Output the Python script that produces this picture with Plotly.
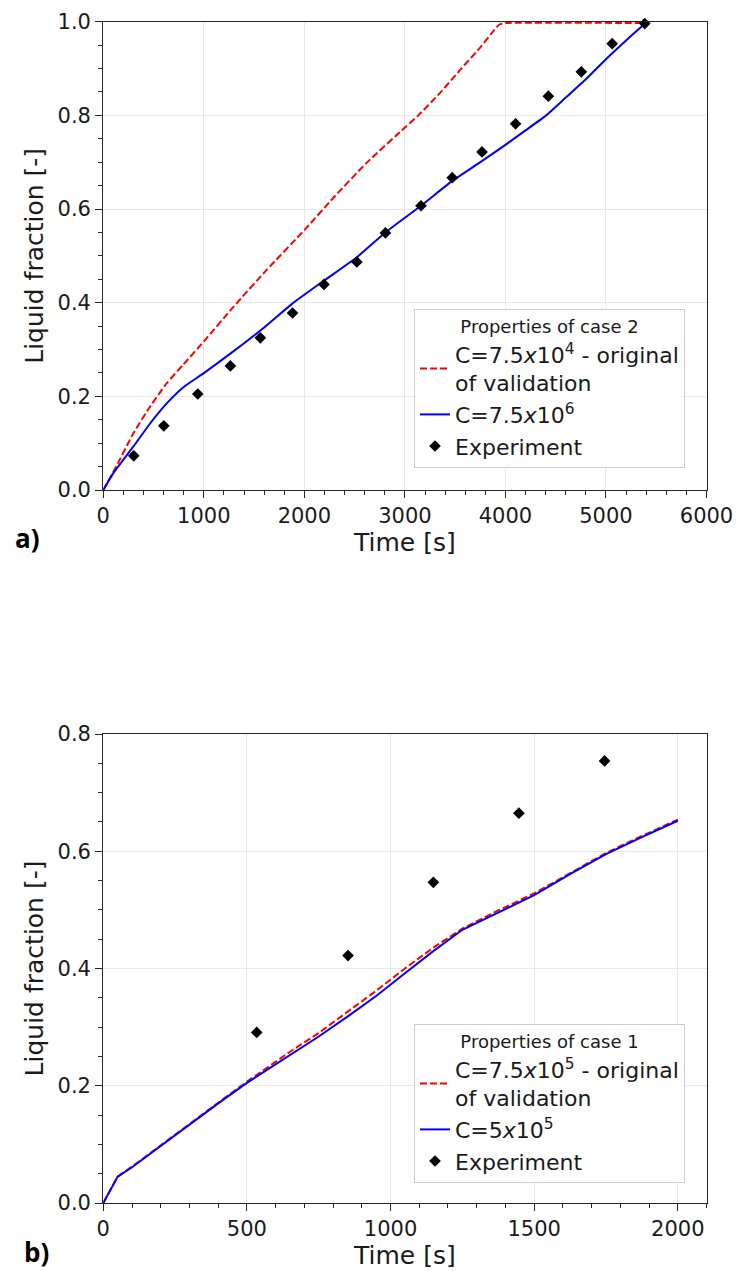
import plotly.graph_objects as go

# ---------------- Panel a) : Properties of case 2 ----------------
t_a_red = [0, 133, 299, 465, 631, 797, 1003, 1294, 1625, 2000, 2289, 2621, 3000, 3134,
           3350, 3549, 3750, 3880, 3940, 4000, 5400]
f_a_red = [0, 0.052, 0.121, 0.178, 0.228, 0.268, 0.318, 0.391, 0.470, 0.555, 0.624, 0.699, 0.774, 0.800,
           0.848, 0.897, 0.945, 0.980, 0.994, 0.997, 0.997]

t_a_blue = [0, 100, 300, 465, 631, 800, 1003, 1300, 1600, 1880, 2195, 2522, 2806, 3160,
            3471, 3750, 4000, 4200, 4405, 4600, 4800, 5000, 5200, 5395]
f_a_blue = [0, 0.036, 0.093, 0.142, 0.185, 0.220, 0.250, 0.297, 0.347, 0.398, 0.447, 0.497, 0.550, 0.607,
            0.660, 0.700, 0.737, 0.768, 0.800, 0.838, 0.877, 0.920, 0.960, 0.997]

t_a_exp = [303, 602, 940, 1264, 1562, 1882, 2195, 2522, 2806, 3160, 3471, 3767, 4101, 4427, 4755, 5062, 5386]
f_a_exp = [0.073, 0.137, 0.205, 0.265, 0.325, 0.378, 0.439, 0.487, 0.549, 0.607, 0.667, 0.722, 0.782, 0.841, 0.893, 0.953, 0.996]

# ---------------- Panel b) : Properties of case 1 ----------------
t_b = [0, 50, 100, 250, 400, 500, 650, 750, 850, 950, 1050, 1150, 1250, 1375, 1500, 1625, 1750, 1875, 2000]
f_b_red = [0, 0.045, 0.062, 0.117, 0.171, 0.207, 0.258, 0.290, 0.326, 0.362, 0.400, 0.436, 0.468, 0.499, 0.528,
           0.563, 0.597, 0.626, 0.654]
f_b_blue = [0, 0.045, 0.061, 0.116, 0.170, 0.205, 0.253, 0.284, 0.318, 0.353, 0.392, 0.430, 0.466, 0.496, 0.525,
            0.561, 0.595, 0.624, 0.652]

t_b_exp = [534, 852, 1149, 1447, 1745]
f_b_exp = [0.291, 0.422, 0.547, 0.665, 0.754]

# ---------------- labels ----------------
name_a_red = 'C=7.5<i>x</i>10<sup>4</sup> - original<br>of validation'
name_a_blue = 'C=7.5<i>x</i>10<sup>6</sup>'
name_b_red = 'C=7.5<i>x</i>10<sup>5</sup> - original<br>of validation'
name_b_blue = 'C=5<i>x</i>10<sup>5</sup>'
name_exp = 'Experiment'

W, H = 736, 1271
FONT = 'DejaVu Sans'
RED = '#ff0000'
BLUE = '#0000ff'

fig = go.Figure()

fig.add_trace(go.Scatter(x=t_a_red, y=f_a_red, mode='lines', name=name_a_red,
                         line=dict(color=RED, width=2, dash='7px,3px', shape='spline', smoothing=0.5),
                         xaxis='x', yaxis='y', legend='legend'))
fig.add_trace(go.Scatter(x=t_a_blue, y=f_a_blue, mode='lines', name=name_a_blue,
                         line=dict(color=BLUE, width=2, shape='spline', smoothing=0.5),
                         xaxis='x', yaxis='y', legend='legend'))
fig.add_trace(go.Scatter(x=t_a_exp, y=f_a_exp, mode='markers', name=name_exp,
                         marker=dict(symbol='diamond', size=9, color='black'),
                         cliponaxis=False, xaxis='x', yaxis='y', legend='legend'))

fig.add_trace(go.Scatter(x=t_b, y=f_b_red, mode='lines', name=name_b_red,
                         line=dict(color=RED, width=2, dash='7px,3px'),
                         xaxis='x2', yaxis='y2', legend='legend2'))
fig.add_trace(go.Scatter(x=t_b, y=f_b_blue, mode='lines', name=name_b_blue,
                         line=dict(color=BLUE, width=2),
                         xaxis='x2', yaxis='y2', legend='legend2'))
fig.add_trace(go.Scatter(x=t_b_exp, y=f_b_exp, mode='markers', name=name_exp,
                         marker=dict(symbol='diamond', size=9, color='black'),
                         cliponaxis=False, xaxis='x2', yaxis='y2', legend='legend2'))

AXC = '#262626'
def axstyle(**kw):
    d = dict(showline=True, linecolor=AXC, linewidth=1.3, mirror=True,
             ticks='outside', ticklen=7, tickwidth=1.3, tickcolor=AXC,
             showgrid=True, gridcolor='#e8e8e8', gridwidth=1, zeroline=False,
             tickfont=dict(family=FONT, size=21, color='#1a1a1a'),
             automargin=False)
    d.update(kw)
    return d

xd = [103.3 / W, 706.5 / W]
ya_dom = [1 - 490 / H, 1 - 21.7 / H]
yb_dom = [1 - 1203 / H, 1 - 734 / H]

title_font = dict(family=FONT, size=25, color='#1a1a1a')
minor_style = dict(ticks='outside', ticklen=4, tickwidth=1.1, tickcolor=AXC, showgrid=False)

fig.update_layout(
    width=W, height=H,
    margin=dict(l=0, r=0, t=0, b=0),
    paper_bgcolor='white', plot_bgcolor='white',
    showlegend=True,
    xaxis=axstyle(domain=xd, anchor='y', range=[0, 6000], tick0=0, dtick=1000,
                  minor=dict(dtick=200, **minor_style),
                  title=dict(text='Time [s]', font=title_font, standoff=4)),
    yaxis=axstyle(domain=ya_dom, anchor='x', range=[0, 1.0], tick0=0, dtick=0.2, tickformat='.1f',
                  minor=dict(dtick=0.05, **minor_style),
                  title=dict(text='Liquid fraction [-]', font=title_font, standoff=6)),
    xaxis2=axstyle(domain=xd, anchor='y2', range=[0, 2100], tick0=0, dtick=500,
                   minor=dict(dtick=100, **minor_style),
                   title=dict(text='Time [s]', font=title_font, standoff=4)),
    yaxis2=axstyle(domain=yb_dom, anchor='x2', range=[0, 0.8], tick0=0, dtick=0.2, tickformat='.1f',
                   minor=dict(dtick=0.05, **minor_style),
                   title=dict(text='Liquid fraction [-]', font=title_font, standoff=6)),
    legend=dict(x=685 / W, xanchor='right', y=1 - 468 / H, yanchor='bottom',
                bgcolor='rgba(255,255,255,0.85)', bordercolor='#cccccc', borderwidth=1,
                font=dict(family=FONT, size=22, color='#1a1a1a'), valign='middle',
                title=dict(text='Properties of case 2', side='top center',
                           font=dict(family=FONT, size=18, color='#1a1a1a'))),
    legend2=dict(x=685 / W, xanchor='right', y=1 - 1183 / H, yanchor='bottom',
                 bgcolor='rgba(255,255,255,0.85)', bordercolor='#cccccc', borderwidth=1,
                 font=dict(family=FONT, size=22, color='#1a1a1a'), valign='middle',
                 title=dict(text='Properties of case 1', side='top center',
                            font=dict(family=FONT, size=18, color='#1a1a1a'))),
    annotations=[
        dict(text='<b>a)</b>', x=27 / W, y=1 - 538 / H, xref='paper', yref='paper',
             xanchor='center', yanchor='middle', showarrow=False,
             font=dict(family='Open Sans', size=26, color='black')),
        dict(text='<b>b)</b>', x=36 / W, y=1 - 1252 / H, xref='paper', yref='paper',
             xanchor='center', yanchor='middle', showarrow=False,
             font=dict(family='Open Sans', size=26, color='black')),
    ],
)

fig.write_html('out.html')
